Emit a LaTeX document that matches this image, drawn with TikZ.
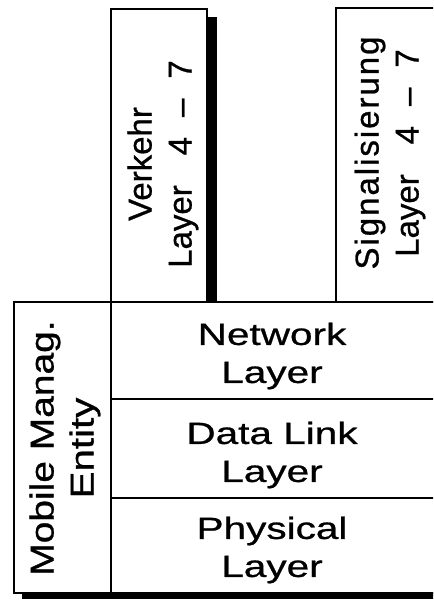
\documentclass[tikz,border=0pt]{standalone}
\usepackage{fontspec}
\setmainfont[FakeBold=0.8]{Liberation Sans}
\newfontfamily\hfont[FakeStretch=1.32,FakeBold=0.8]{Liberation Sans}
\usepackage{graphicx}
\begin{document}
\begin{tikzpicture}[x=1pt,y=-1pt,
  boxline/.style={draw=black, line width=2.2pt},
  htext/.style={align=center, font=\hfont\fontsize{30.7}{38}\selectfont, inner sep=0pt},
  vtext/.style={align=center, rotate=90, font=\fontsize{33}{40}\selectfont, inner sep=0pt},
  shadowfill/.style={fill=black, draw=none}]
\useasboundingbox (0,0) rectangle (433,601);
\begin{scope}
\clip (0,0) rectangle (433,601);
\fill[shadowfill] (207,17) rectangle (217,302);
\fill[shadowfill] (22,592) rectangle (445,599);
\draw[boxline, fill=white] (111,9) rectangle (207,302);
\draw[boxline, fill=white] (336,8) rectangle (445,302);
\draw[boxline, fill=white] (14,302) rectangle (445,593);
\draw[boxline] (111,302) -- (111,593);
\draw[boxline] (111,399) -- (445,399);
\draw[boxline] (111,498) -- (445,498);
\end{scope}
\node[htext] (net) at (272,356) {Network\\Layer};
\node[htext] (dl) at (272,455) {Data Link\\Layer};
\node[htext] (phy) at (272,550) {Physical\\Layer};
\node[vtext] (mme) at (65,448) {\scalebox{1.18}[1]{Mobile Manag.}\\\scalebox{1.22}[1]{Entity}};
\node[vtext] (verk) at (163,164) {Verkehr\\Layer\hspace{30pt}4\hspace{20pt}–\hspace{20pt}7};
\node[vtext] (sig) at (390,153) {{\addfontfeature{LetterSpace=6}Signalisierung}\\Layer\hspace{30pt}4\hspace{20pt}–\hspace{20pt}7};
\end{tikzpicture}
\end{document}
